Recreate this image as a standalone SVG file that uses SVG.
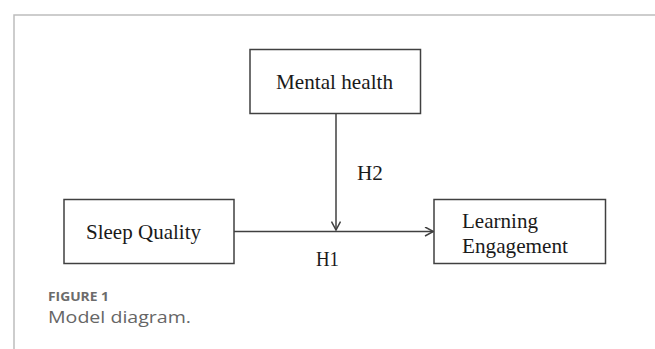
<svg xmlns="http://www.w3.org/2000/svg" width="655" height="349" viewBox="0 0 655 349">
<style>
.box{fill:#fff;stroke:#404040;stroke-width:1.5}
.lbl{font-family:"Liberation Serif","Times New Roman",serif;font-size:22px;fill:#1a1a1a}
.conn{stroke:#404040;stroke-width:1.5;fill:none}
.cap1{font-family:"Open Sans","Noto Sans",sans-serif;font-size:12px;font-weight:bold;fill:#6b6b6b}
.cap2{font-family:"Open Sans","Noto Sans",sans-serif;font-size:16px;fill:#666}
</style>
<defs>
<marker id="arr" viewBox="0 0 10 10" refX="9.5" refY="5" markerWidth="10" markerHeight="10" markerUnits="userSpaceOnUse" orient="auto">
<path d="M1,0.5 L9.5,5 L1,9.5" fill="none" stroke="#404040" stroke-width="1.5"/>
</marker>
</defs>
<rect width="655" height="349" fill="#fff"/>
<path d="M14,349 V15 H655" fill="none" stroke="#bdbdbd" stroke-width="1.5"/>
<g id="connectors">
<line class="conn" x1="234" y1="231.5" x2="433.5" y2="231.5" marker-end="url(#arr)"/>
<line class="conn" x1="336" y1="113.5" x2="336" y2="230" marker-end="url(#arr)"/>
<text class="lbl" x="357" y="180" textLength="26" lengthAdjust="spacingAndGlyphs">H2</text>
<text class="lbl" x="316" y="266" textLength="23" lengthAdjust="spacingAndGlyphs">H1</text>
</g>
<g id="mental-health">
<rect class="box" x="250" y="49.5" width="170.5" height="64"/>
<text class="lbl" x="276" y="89" textLength="117" lengthAdjust="spacingAndGlyphs">Mental health</text>
</g>
<g id="sleep-quality">
<rect class="box" x="64" y="199.5" width="170" height="64"/>
<text class="lbl" x="86" y="239" textLength="115" lengthAdjust="spacingAndGlyphs">Sleep Quality</text>
</g>
<g id="learning-engagement">
<rect class="box" x="434" y="199.5" width="171.5" height="64"/>
<text class="lbl" x="462" y="228" textLength="76" lengthAdjust="spacingAndGlyphs">Learning</text>
<text class="lbl" x="462" y="253" textLength="106" lengthAdjust="spacingAndGlyphs">Engagement</text>
</g>
<text class="cap1" x="48" y="301" textLength="61" lengthAdjust="spacingAndGlyphs">FIGURE 1</text>
<text class="cap2" x="48" y="322.5" textLength="143" lengthAdjust="spacingAndGlyphs">Model diagram.</text>
</svg>
